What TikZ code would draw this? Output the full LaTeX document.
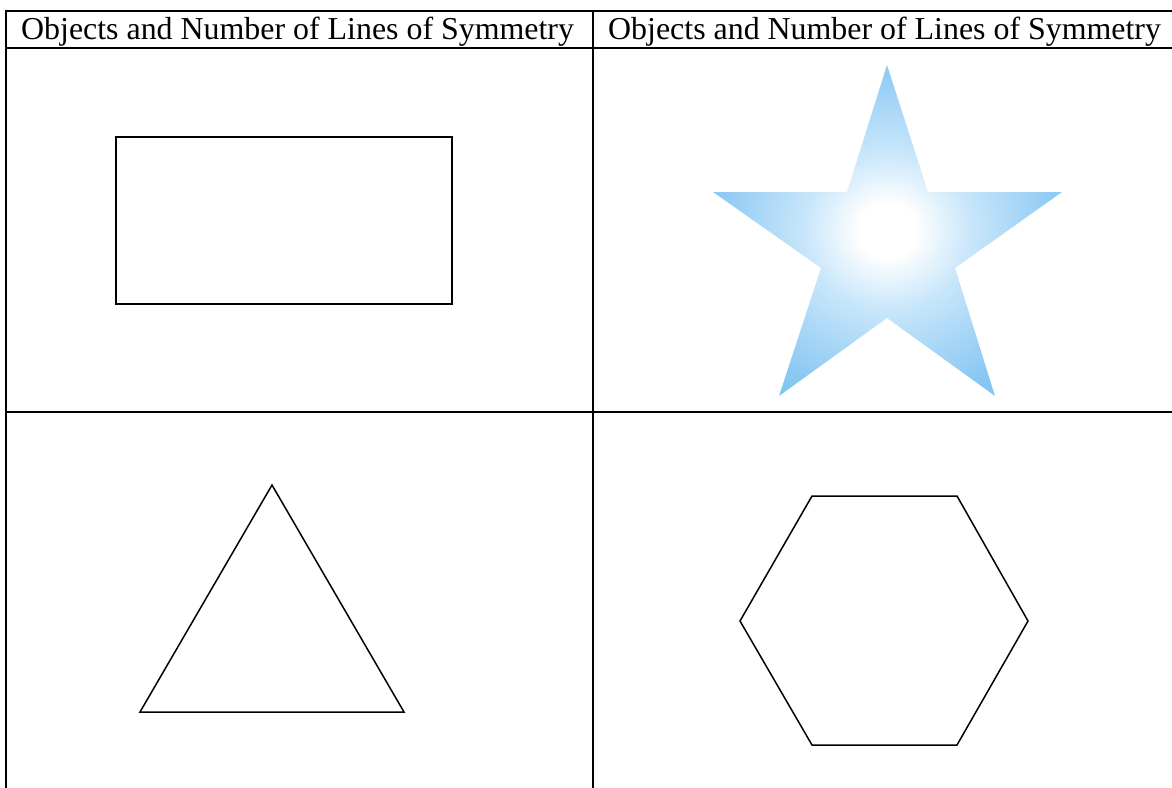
\documentclass[tikz,border=0pt]{standalone}
\usepackage{fontspec}
\setmainfont{Liberation Serif}
\usetikzlibrary{positioning}

\definecolor{starpale}{RGB}{200,230,250}
\definecolor{starmid}{RGB}{140,201,243}
\definecolor{staredge}{RGB}{60,174,234}
\pgfdeclareradialshading{starglow}{\pgfpoint{0bp}{0bp}}{%
  color(0bp)=(white); color(4bp)=(white); color(12bp)=(starpale); color(25bp)=(starmid); color(50bp)=(staredge); color(60bp)=(staredge)}

\begin{document}
\begin{tikzpicture}[x=1pt, y=-1pt,
          headcell/.style={anchor=base west, inner sep=0pt, font=\fontsize{31.9}{37}\selectfont},
          gridline/.style={line width=2.6pt, line cap=rect},
          shapeline/.style={line width=1.5pt, line join=miter}]
        \useasboundingbox (0,0) rectangle (1172,787);

        % table head
        \node [headcell] (hdrL) at (21,39) {Objects and Number of Lines of Symmetry};
        \node [headcell] (hdrR) at (608,39) {Objects and Number of Lines of Symmetry};

        % table rules
        \draw [gridline] (6,11) -- (1180,11);
        \draw [gridline] (6,48) -- (1180,48);
        \draw [gridline] (6,412) -- (1180,412);
        \draw [gridline] (6,11) -- (6,800);
        \draw [gridline] (593,11) -- (593,800);

        % rectangle
        \draw [shapeline] (116,137) rectangle (452,304);

        % star
        \shade [shading=starglow] (887,65) -- (928,192) -- (1062,192) -- (955,268) -- (995,396)
          -- (887,318) -- (779,396) -- (821,268) -- (713,192) -- (847,192) -- cycle;

        % triangle
        \draw [shapeline] (272,485) -- (404,712) -- (140,712) -- cycle;

        % hexagon
        \draw [shapeline] (812,496) -- (957,496) -- (1028,621) -- (957,745) -- (812,745) -- (740,621) -- cycle;
      \end{tikzpicture}
\end{document}
